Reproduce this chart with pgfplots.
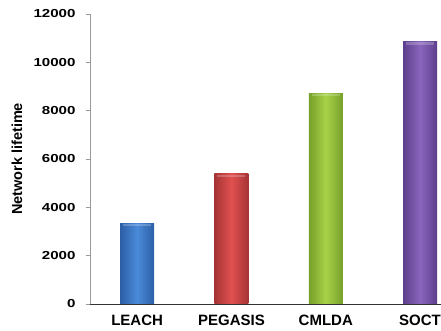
\documentclass[border=0pt]{standalone}
\usepackage{pgfplots}
\pgfplotsset{compat=1.18}
\usepackage{fontspec}
\setmainfont{Liberation Sans}
\newfontfamily\tickfont[FakeStretch=1.3]{Liberation Sans}

\definecolor{leachD}{HTML}{2C5FA6}
\definecolor{leachL}{HTML}{4A8AD8}
\definecolor{pegD}{HTML}{A63434}
\definecolor{pegL}{HTML}{E05050}
\definecolor{cmlD}{HTML}{76A02A}
\definecolor{cmlL}{HTML}{A8D248}
\definecolor{socD}{HTML}{5C3E8C}
\definecolor{socL}{HTML}{8A66BC}

\pgfplotsset{
  cylbar/.style n args={2}{ybar, bar width=34pt, bar shift=0pt, draw=none,
    left color=#1, right color=#1, middle color=#2},
}

\begin{document}
\begin{tikzpicture}
\path[use as bounding box] (-90pt,-27pt) rectangle (351pt,304pt);
\begin{axis}[
  scale only axis,
  width=351pt, height=290pt,
  xmin=-0.5, xmax=3.222,
  ymin=0, ymax=12000,
  axis x line=bottom, axis y line=left,
  axis line style={-},
  x axis line style={black!80, line width=0.8pt},
  y axis line style={black!40, line width=0.8pt},
  ytick={0,2000,...,12000},
  xtick={0,1,2,3},
  xticklabels={LEACH,PEGASIS,CMLDA,SOCT},
  x tick label style={font=\fontsize{15}{15}\selectfont\bfseries, yshift=-3pt},
  y tick label style={font=\fontsize{11.6}{12}\selectfont\tickfont\bfseries, xshift=-7pt},
  /pgf/number format/assume math mode=true,
  scaled y ticks=false,
  yticklabel style={/pgf/number format/1000 sep={}},
  major x tick style={draw=none},
  major y tick style={black!40, line width=0.8pt},
  tick align=outside,
  major tick length=4pt,
  ylabel={\bfseries Network lifetime},
  ylabel style={font=\fontsize{14.5}{15}\selectfont, at={(axis description cs:-0.208,0.5)}, anchor=center},
  clip=false,
]
\addplot[cylbar={leachD}{leachL}] coordinates {(0,3350)};
\addplot[cylbar={pegD}{pegL}] coordinates {(1,5380)};
\addplot[cylbar={cmlD}{cmlL}] coordinates {(2,8720)};
\addplot[cylbar={socD}{socL}] coordinates {(3,10850)};
% soft light bevel along the top of each bar
\addplot[only marks, mark=-, mark size=14pt, mark options={line width=2.5pt, yshift=-1.8pt, draw=white, draw opacity=0.22}] coordinates {(0,3350) (1,5380) (2,8720) (3,10850)};
\end{axis}
\end{tikzpicture}
\end{document}
